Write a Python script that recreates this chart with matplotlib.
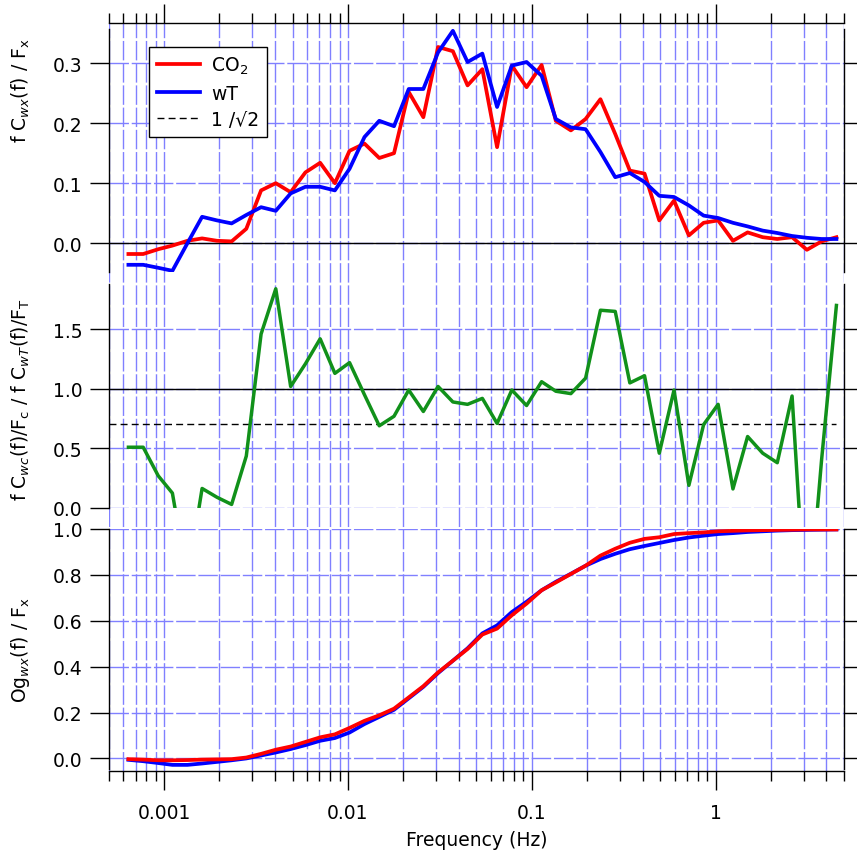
import numpy as np
import matplotlib
matplotlib.use('Agg')
from matplotlib import pyplot as plt
from matplotlib.ticker import FixedLocator, FuncFormatter, NullLocator

# frequency bins (Hz)
freq = [0.00064, 0.00077, 0.00093, 0.00111, 0.00134, 0.00161, 0.00194, 0.00233, 0.0028, 0.00337,
        0.00405, 0.00488, 0.00587, 0.00706, 0.00849, 0.0102, 0.0123, 0.0148, 0.0178, 0.0214,
        0.0257, 0.0309, 0.0372, 0.0447, 0.0538, 0.0647, 0.0778, 0.0936, 0.113, 0.135,
        0.163, 0.196, 0.236, 0.284, 0.341, 0.41, 0.493, 0.593, 0.714, 0.859,
        1.03, 1.24, 1.49, 1.8, 2.16, 2.6, 3.13, 3.76, 4.53]

# normalised cospectra f C(f)/F
co2_cosp = [-0.018, -0.018, -0.010, -0.004, 0.004, 0.008, 0.004, 0.003, 0.024, 0.088,
            0.100, 0.085, 0.118, 0.134, 0.100, 0.154, 0.166, 0.142, 0.150, 0.252,
            0.210, 0.327, 0.320, 0.263, 0.290, 0.160, 0.296, 0.260, 0.297, 0.204,
            0.188, 0.207, 0.240, 0.182, 0.121, 0.116, 0.038, 0.071, 0.013, 0.034,
            0.038, 0.004, 0.018, 0.010, 0.007, 0.010, -0.011, 0.003, 0.010]
wt_cosp = [-0.036, -0.036, -0.041, -0.046, 0.000, 0.044, 0.038, 0.033, 0.047, 0.060,
           0.054, 0.083, 0.094, 0.094, 0.088, 0.124, 0.177, 0.204, 0.195, 0.257,
           0.257, 0.318, 0.354, 0.302, 0.316, 0.227, 0.296, 0.302, 0.279, 0.207,
           0.193, 0.190, 0.152, 0.110, 0.117, 0.102, 0.079, 0.077, 0.063, 0.046,
           0.042, 0.034, 0.028, 0.021, 0.017, 0.012, 0.009, 0.007, 0.007]

# ratio CO2 / wT
ratio = [0.51, 0.51, 0.27, 0.125, -0.6, 0.164, 0.09, 0.03, 0.436, 1.46,
         1.84, 1.02, 1.21, 1.42, 1.13, 1.22, 0.95, 0.69, 0.77, 0.99,
         0.81, 1.02, 0.89, 0.87, 0.92, 0.71, 0.99, 0.86, 1.06, 0.98,
         0.96, 1.09, 1.66, 1.65, 1.05, 1.11, 0.46, 0.99, 0.19, 0.70,
         0.87, 0.16, 0.60, 0.46, 0.38, 0.94, -1.05, 0.40, 1.70]

# ogives
co2_ogive = [-0.003, -0.005, -0.008, -0.008, -0.007, -0.005, -0.004, -0.003, 0.004, 0.020,
             0.038, 0.052, 0.072, 0.092, 0.105, 0.133, 0.164, 0.188, 0.217, 0.266,
             0.315, 0.375, 0.426, 0.477, 0.540, 0.566, 0.624, 0.675, 0.733, 0.767,
             0.804, 0.840, 0.884, 0.914, 0.940, 0.957, 0.964, 0.978, 0.982, 0.985,
             0.990, 0.992, 0.994, 0.995, 0.996, 0.997, 0.998, 0.998, 0.998]
wt_ogive = [-0.006, -0.012, -0.020, -0.028, -0.028, -0.022, -0.015, -0.008, 0.000, 0.013,
            0.026, 0.041, 0.058, 0.077, 0.089, 0.113, 0.150, 0.181, 0.212, 0.262,
            0.312, 0.372, 0.426, 0.480, 0.545, 0.580, 0.638, 0.683, 0.733, 0.770,
            0.805, 0.840, 0.869, 0.892, 0.912, 0.926, 0.939, 0.952, 0.963, 0.971,
            0.978, 0.982, 0.987, 0.990, 0.993, 0.995, 0.996, 0.997, 0.998]

XMIN, XMAX = 0.0005, 5.0
W, H = 857, 853
GRID = dict(color='#8080ff', linewidth=1.0, linestyle=(0, (14, 2)))
FS = 13.5


def px(x0, y0, x1, y1):
    # pixel box (from top left) -> figure fraction
    return [x0 / W, 1 - y1 / H, (x1 - x0) / W, (y1 - y0) / H]


def panel(fig, box, ylim, yticks):
    ax = fig.add_axes(box)
    ax.set_facecolor('none')
    ax.set_xscale('log')
    ax.set_xlim(XMIN, XMAX)
    ax.set_ylim(*ylim)
    ax.set_yticks(yticks)
    ax.yaxis.set_major_formatter(FuncFormatter(lambda v, p: '%.1f' % v))
    ax.spines['top'].set_visible(False)
    ax.spines['bottom'].set_visible(False)
    for s in ('left', 'right'):
        ax.spines[s].set_linewidth(1.0)
    ax.tick_params(axis='x', which='both', bottom=False, top=False, labelbottom=False)
    ax.tick_params(axis='y', which='major', direction='out', length=14, width=1.0,
                   left=True, right=True, labelleft=True, labelright=False,
                   labelsize=FS, pad=5)
    ax.yaxis.set_minor_locator(NullLocator())
    ax.grid(True, axis='y', which='major', **GRID)
    ax.grid(False, axis='x')
    return ax


fig = plt.figure(figsize=(W / 100, H / 100), dpi=100)

# background axes: vertical grid and both frequency axes
bg = fig.add_axes(px(108.7, 24, 844.3, 772))
bg.set_xscale('log')
bg.set_xlim(XMIN, XMAX)
bg.set_yticks([])
bg.spines['left'].set_visible(False)
bg.spines['right'].set_visible(False)
bg.spines['top'].set_linewidth(1.0)
bg.spines['bottom'].set_linewidth(1.0)
bg.xaxis.set_major_locator(FixedLocator([0.001, 0.01, 0.1, 1]))
bg.xaxis.set_major_formatter(FuncFormatter(lambda v, p: '%g' % v))
bg.tick_params(axis='x', which='both', direction='out', top=True, bottom=True,
               labeltop=False, labelbottom=True)
bg.tick_params(axis='x', which='major', length=14, width=1.0, labelsize=FS, pad=9)
bg.tick_params(axis='x', which='minor', length=7, width=1.0)
bg.grid(True, axis='x', which='both', **GRID)
bg.set_xlabel('Frequency (Hz)', fontsize=FS, labelpad=6)

# top: cospectra
ax1 = panel(fig, px(108.7, 30, 844.3, 273), (-0.048, 0.357), [0.0, 0.1, 0.2, 0.3])
ax1.axhline(0, color='k', lw=1.0)
ax1.plot(freq, co2_cosp, color='#ff0000', lw=2.7, label='CO$_2$')
ax1.plot(freq, wt_cosp, color='#0000ff', lw=2.7, label='wT')
ax1.plot([], [], color='k', lw=1.0, linestyle=(0, (5, 3)), label='1 /\u221a2')
leg = ax1.legend(loc='upper left', bbox_to_anchor=(0.055, 0.925), borderaxespad=0,
                 fontsize=FS, frameon=True, fancybox=False, framealpha=1,
                 edgecolor='k', handlelength=2.3, handletextpad=0.6,
                 labelspacing=0.4, borderpad=0.4)
leg.get_frame().set_linewidth(1.0)

# middle: ratio
ax2 = panel(fig, px(108.7, 285, 844.3, 509), (0.0, 1.88), [0.0, 0.5, 1.0, 1.5])
ax2.axhline(1.0, color='k', lw=1.0)
ax2.hlines(1 / np.sqrt(2), XMIN, freq[-1], color='k', lw=1.0, linestyle=(0, (5, 3)))
ax2.plot(freq, ratio, color='#11911a', lw=2.5)

# bottom: ogives
ax3 = panel(fig, px(108.7, 530, 844.3, 770), (-0.046, 1.0), [0.0, 0.2, 0.4, 0.6, 0.8, 1.0])
ax3.plot(freq, wt_ogive, color='#0000ff', lw=2.7)
ax3.plot(freq, co2_ogive, color='#ff0000', lw=2.7)

# y labels
fig.text(21 / W, 1 - 91 / H, r'f C$_{wx}$(f) / F$_\mathregular{x}$', rotation=90,
         ha='center', va='center', fontsize=FS)
fig.text(21 / W, 1 - 400 / H,
         r'f C$_{wc}$(f)/F$_\mathregular{c}$ / f C$_{wT}$(f)/F$_\mathregular{T}$',
         rotation=90, ha='center', va='center', fontsize=FS)
fig.text(21 / W, 1 - 650 / H, r'Og$_{wx}$(f) / F$_\mathregular{x}$', rotation=90,
         ha='center', va='center', fontsize=FS)

fig.savefig('out.png', dpi=100)
